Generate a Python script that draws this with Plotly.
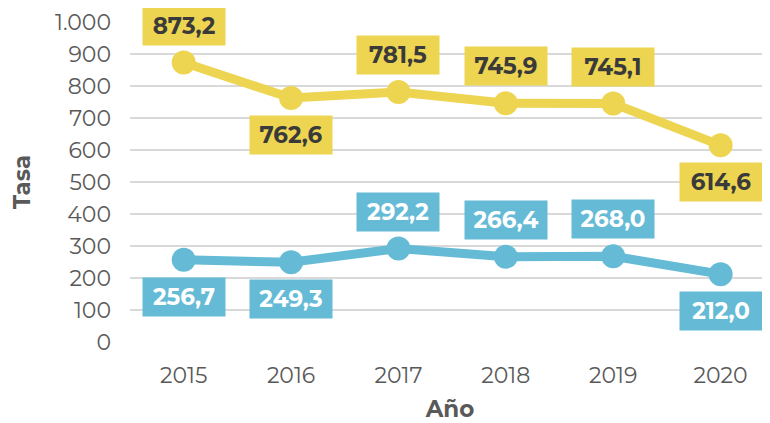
import plotly.graph_objects as go

years = ["2015", "2016", "2017", "2018", "2019", "2020"]
serie_amarilla = [873.2, 762.6, 781.5, 745.9, 745.1, 614.6]
serie_azul = [256.7, 249.3, 292.2, 266.4, 268.0, 212.0]
pos_amarilla = ["above", "below", "above", "above", "above", "below"]
pos_azul = ["below", "below", "above", "above", "above", "below"]
y_ticks = [0, 100, 200, 300, 400, 500, 600, 700, 800, 900, 1000]

YELLOW = "#EDD551"
BLUE = "#65BBD6"
FONT = "Montserrat, Open Sans, Lato, sans-serif"


def fmt(v):
    return f"{v:.1f}".replace(".", ",")


def fmt_tick(v):
    return f"{v:,}".replace(",", ".")


fig = go.Figure()
for vals, color, name in [(serie_amarilla, YELLOW, "Serie 1"), (serie_azul, BLUE, "Serie 2")]:
    fig.add_trace(go.Scatter(
        x=years, y=vals, mode="lines+markers", name=name,
        line=dict(color=color, width=9),
        marker=dict(color=color, size=24),
        cliponaxis=False, showlegend=False,
    ))

annotations = []
for vals, poss, bg, fc in [(serie_amarilla, pos_amarilla, YELLOW, "#3a3a3a"),
                           (serie_azul, pos_azul, BLUE, "#ffffff")]:
    for i, (v, p) in enumerate(zip(vals, poss)):
        annotations.append(dict(
            x=i, y=v, xref="x", yref="y", text=f"<b>{fmt(v)}</b>",
            showarrow=False, bgcolor=bg, width=74, height=30, borderpad=4,
            font=dict(family=FONT, size=23, color=fc),
            yshift=37 if p == "above" else -37,
        ))

# page body has an 8px margin: shrink figure so it fits the 770x423 window
fig.update_layout(
    width=762, height=415,
    margin=dict(l=122, r=0, t=14, b=81),
    paper_bgcolor="white", plot_bgcolor="white",
    font=dict(family=FONT, color="#595959"),
    annotations=annotations,
    showlegend=False,
    xaxis=dict(
        type="category", range=[-0.5, 5.46],
        showgrid=False, zeroline=False, showline=False,
        ticks="", ticklabelstandoff=18,
        tickfont=dict(size=22, color="#595959"),
        title=dict(text="<b>Año</b>", font=dict(size=23, color="#595959"), standoff=13),
    ),
    yaxis=dict(
        range=[0, 1000], tickvals=y_ticks, ticktext=[fmt_tick(t) for t in y_ticks],
        showgrid=True, gridcolor="#D9D9D9", gridwidth=2,
        zeroline=False, showline=False, ticks="", ticklabelstandoff=18,
        tickfont=dict(size=22, color="#595959"),
        title=dict(text="<b>Tasa</b>", font=dict(size=23, color="#595959"), standoff=17),
    ),
)

fig.write_html("out.html")
